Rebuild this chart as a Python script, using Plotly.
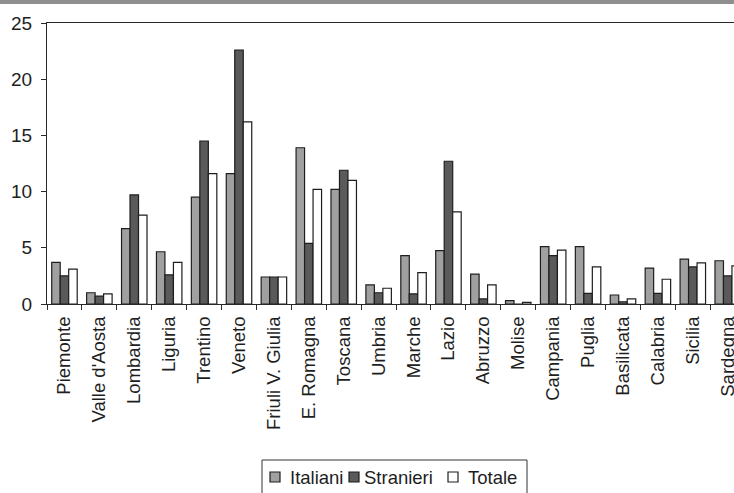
import plotly.graph_objects as go

regions = ["Piemonte", "Valle d'Aosta", "Lombardia", "Liguria", "Trentino", "Veneto",
           "Friuli V. Giulia", "E. Romagna", "Toscana", "Umbria", "Marche", "Lazio",
           "Abruzzo", "Molise", "Campania", "Puglia", "Basilicata", "Calabria",
           "Sicilia", "Sardegna"]
italiani = [3.7, 1.0, 6.7, 4.65, 9.5, 11.6, 2.4, 13.9, 10.2, 1.7, 4.3, 4.75,
            2.65, 0.3, 5.1, 5.1, 0.8, 3.2, 4.0, 3.85]
stranieri = [2.5, 0.7, 9.7, 2.6, 14.5, 22.6, 2.4, 5.4, 11.9, 1.0, 0.9, 12.7,
             0.45, 0.0, 4.3, 0.95, 0.2, 0.95, 3.3, 2.5]
totale = [3.1, 0.9, 7.9, 3.7, 11.6, 16.2, 2.4, 10.2, 11.0, 1.4, 2.8, 8.2,
          1.7, 0.15, 4.8, 3.3, 0.45, 2.2, 3.65, 3.4]
series_names = ["Italiani", "Stranieri", "Totale"]
y_ticks = [0, 5, 10, 15, 20, 25]

FONT = "Liberation Sans, Arial, sans-serif"
colors = ["#a0a0a0", "#5a5a5a", "#ffffff"]
line_col = "#1e1e1e"
TXT = "#1e1e1e"

W, H = 734, 493
ML, MR, MT, MB = 47, 0, 23, 189
PW, PH = W - ML - MR, H - MT - MB


def px(x):
    return (x - ML) / PW


def py(y):
    return (H - MB - y) / PH


fig = go.Figure()
for name, vals, col in zip(series_names, [italiani, stranieri, totale], colors):
    fig.add_trace(go.Bar(
        x=regions, y=vals, name=name, showlegend=False,
        marker=dict(color=col, line=dict(color=line_col, width=1.2)),
    ))

# legend drawn as box + swatches + text (compact, like the reference)
shapes = [
    dict(type="rect", xref="paper", yref="paper",
         x0=-0.1, x1=1.0, y0=py(4), y1=py(-3),
         fillcolor="#8f8f8f", line=dict(width=0), layer="above"),
    dict(type="rect", xref="paper", yref="paper",
         x0=px(262), x1=px(527), y0=py(460), y1=py(505),
         fillcolor="white", line=dict(color="#333333", width=1)),
]
annotations = []
sw_x = [270, 349, 448]
tx_x = [287.5, 362, 466]
for name, col, sx, tx in zip(series_names, colors, sw_x, tx_x):
    shapes.append(dict(type="rect", xref="paper", yref="paper",
                       x0=px(sx), x1=px(sx + 10), y0=py(472), y1=py(482),
                       fillcolor=col, line=dict(color=line_col, width=1.2)))
    annotations.append(dict(xref="paper", yref="paper", x=px(tx), y=py(477.5),
                            xanchor="left", yanchor="middle", showarrow=False,
                            text=name, font=dict(family=FONT, size=18.5, color=TXT)))

fig.update_layout(
    width=W, height=H,
    margin=dict(l=ML, r=MR, t=MT, b=MB),
    paper_bgcolor="white", plot_bgcolor="white",
    barmode="group", bargap=0.27, bargroupgap=0,
    font=dict(family=FONT, size=18, color=TXT),
    showlegend=False,
    xaxis=dict(
        type="category", range=[-0.5, 19.18], automargin=False,
        showline=True, linecolor="#2a2a2a", linewidth=1.2, mirror=True,
        ticks="outside", tickson="boundaries", ticklen=5, tickcolor="#2a2a2a",
        tickangle=-90, showgrid=False, zeroline=False, ticklabelstandoff=4,
        tickfont=dict(family=FONT, size=18.5, color=TXT),
    ),
    yaxis=dict(
        range=[0, 25], tickvals=y_ticks, ticktext=[str(v) for v in y_ticks],
        automargin=False,
        showline=True, linecolor="#2a2a2a", linewidth=1.2,
        ticks="outside", ticklen=5, tickcolor="#2a2a2a",
        showgrid=False, zeroline=False, ticklabelstandoff=5,
        tickfont=dict(family=FONT, size=19, color=TXT),
    ),
    shapes=shapes,
    annotations=annotations,
)

fig.write_html(
    "out.html",
    config={"displayModeBar": False},
    post_script="document.body.style.margin='0';document.body.style.overflow='hidden';",
)
